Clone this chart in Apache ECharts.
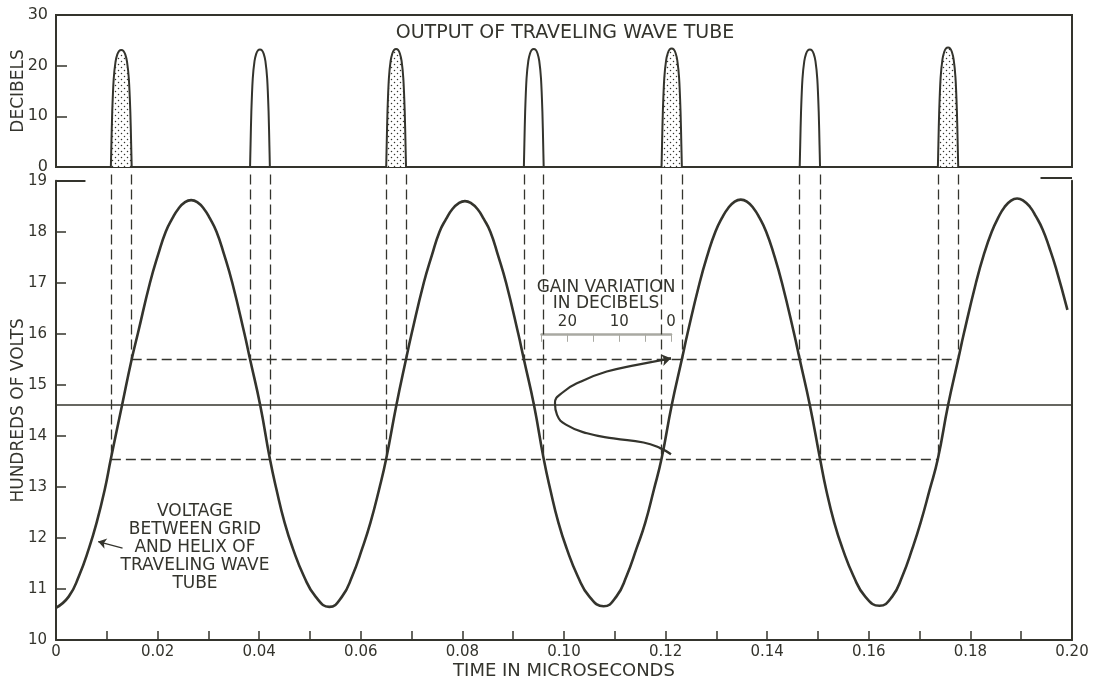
<!DOCTYPE html>
<html><head><meta charset="utf-8">
<script src="https://cdn.jsdelivr.net/npm/echarts@6/dist/echarts.min.js"></script>
<style>html,body{margin:0;padding:0;background:#fff}#c{width:1094px;height:679px}</style>
</head><body><div id="c"></div>
<script>
// ---- data ----
// Voltage between grid and helix (hundreds of volts) vs time (microseconds)
const curveTime = [
  0.0000, 0.0025, 0.0045, 0.0065, 0.0080, 0.0096, 0.0108, 0.0130, 0.0149, 0.0161, 0.0185, 0.0201, 0.0216, 0.0229, 0.0241, 0.0254, 0.0266,
  0.0278, 0.0291, 0.0303, 0.0316, 0.0331, 0.0347, 0.0371, 0.0382, 0.0402, 0.0421, 0.0434, 0.0450, 0.0466, 0.0488, 0.0511, 0.0538,
  0.0563, 0.0583, 0.0603, 0.0619, 0.0636, 0.0650, 0.0670, 0.0689, 0.0700, 0.0724, 0.0740, 0.0755, 0.0768, 0.0780, 0.0793, 0.0805,
  0.0817, 0.0830, 0.0842, 0.0855, 0.0870, 0.0886, 0.0910, 0.0921, 0.0941, 0.0960, 0.0973, 0.0989, 0.1005, 0.1027, 0.1050, 0.1078,
  0.1103, 0.1123, 0.1143, 0.1160, 0.1177, 0.1192, 0.1212, 0.1232, 0.1243, 0.1267, 0.1283, 0.1298, 0.1311, 0.1323, 0.1336, 0.1348,
  0.1360, 0.1373, 0.1385, 0.1398, 0.1413, 0.1429, 0.1453, 0.1464, 0.1484, 0.1504, 0.1516, 0.1532, 0.1548, 0.1570, 0.1593, 0.1621,
  0.1646, 0.1666, 0.1686, 0.1702, 0.1720, 0.1736, 0.1756, 0.1776, 0.1787, 0.1811, 0.1827, 0.1842, 0.1855, 0.1867, 0.1880, 0.1892,
  0.1904, 0.1917, 0.1929, 0.1942, 0.1955, 0.1968, 0.1991];
const curveVolts = [
  10.63, 10.85, 11.25, 11.8, 12.3, 12.95, 13.55, 14.6, 15.5, 16.0, 17.0, 17.55, 18.0, 18.26, 18.45, 18.58, 18.62,
  18.58, 18.45, 18.26, 18.0, 17.55, 17.0, 16.0, 15.5, 14.6, 13.55, 12.95, 12.3, 11.8, 11.25, 10.85, 10.65,
  10.85, 11.25, 11.8, 12.3, 12.95, 13.55, 14.6, 15.5, 16.0, 17.0, 17.54, 18.0, 18.25, 18.44, 18.56, 18.60,
  18.56, 18.44, 18.25, 18.0, 17.54, 17.0, 16.0, 15.5, 14.6, 13.55, 12.95, 12.3, 11.8, 11.25, 10.85, 10.66,
  10.85, 11.25, 11.8, 12.3, 12.95, 13.55, 14.6, 15.5, 16.0, 17.0, 17.56, 18.0, 18.27, 18.46, 18.59, 18.63,
  18.59, 18.46, 18.27, 18.0, 17.56, 17.0, 16.0, 15.5, 14.6, 13.55, 12.95, 12.3, 11.8, 11.25, 10.85, 10.67,
  10.85, 11.25, 11.8, 12.3, 12.95, 13.55, 14.6, 15.5, 16.0, 17.0, 17.57, 18.0, 18.28, 18.48, 18.61, 18.65,
  18.61, 18.49, 18.30, 18.05, 17.70, 17.3, 16.47];

// reference voltage levels (hundreds of volts)
const upperLevel = 15.5;
const centerLevel = 14.6;
const lowerLevel = 13.55;

// times where the voltage crosses the two levels (microseconds)
const riseLow  = [0.0108, 0.0650, 0.1192, 0.1736];
const riseHigh = [0.0149, 0.0689, 0.1232, 0.1776];
const fallHigh = [0.0382, 0.0921, 0.1464];
const fallLow  = [0.0421, 0.0960, 0.1504];

// output pulse peaks (decibels)
const risePeaks = [23.1, 23.3, 23.4, 23.6];
const fallPeaks = [23.2, 23.3, 23.2];
// shape of one output pulse: position across the pulse, fraction of the peak
const pulseShapePos   = [0, 0.025, 0.065, 0.135, 0.225, 0.31, 0.40, 0.5, 0.60, 0.69, 0.775, 0.865, 0.935, 0.975, 1];
const pulseShapeLevel = [0, 0.19, 0.47, 0.75, 0.90, 0.962, 0.992, 1, 0.992, 0.962, 0.90, 0.75, 0.47, 0.19, 0];

// gain variation curve (decibels vs hundreds of volts)
const gainDb    = [0, 2.1, 5.3, 11.1, 16.2, 20.1, 22.0, 22.4, 20.8, 17.5, 12.4, 6.6, 0];
const gainVolts = [13.64, 13.76, 13.87, 13.95, 14.05, 14.21, 14.41, 14.64, 14.86, 15.06, 15.26, 15.39, 15.52];

const voltTop = 19.12;              // top of the vertical construction lines
const frameStubLeft  = [0, 0.0058];
const frameStubRight = [0.1938, 0.2];

// ---- chart ----
const INK = '#34342d';
const FONT = 'DejaVu Sans';

const pc = document.createElement('canvas');
pc.width = 6; pc.height = 6;
const g2 = pc.getContext('2d');
g2.fillStyle = '#ffffff'; g2.fillRect(0, 0, 6, 6);
g2.fillStyle = INK;
g2.beginPath(); g2.arc(1.5, 1.5, 0.75, 0, Math.PI * 2); g2.fill();
g2.beginPath(); g2.arc(4.5, 4.5, 0.75, 0, Math.PI * 2); g2.fill();

function pulse(t0, t1, peak) {
  return pulseShapePos.map((p, i) => [t0 + p * (t1 - t0), pulseShapeLevel[i] * peak]);
}

const series = [];
riseLow.forEach((t0, i) => {
  series.push({
    type: 'line', xAxisIndex: 0, yAxisIndex: 0, data: pulse(t0, riseHigh[i], risePeaks[i]),
    smooth: 0.3, showSymbol: false,
    lineStyle: { color: INK, width: 2 },
    areaStyle: { color: { image: pc, repeat: 'repeat' }, opacity: 1 }
  });
});
fallHigh.forEach((t0, i) => {
  series.push({
    type: 'line', xAxisIndex: 0, yAxisIndex: 0, data: pulse(t0, fallLow[i], fallPeaks[i]),
    smooth: 0.3, showSymbol: false,
    lineStyle: { color: INK, width: 2 }
  });
});

// main voltage curve
series.push({
  type: 'line', xAxisIndex: 1, yAxisIndex: 1,
  data: curveTime.map((t, i) => [t, curveVolts[i]]),
  smooth: 0.5, showSymbol: false, lineStyle: { color: INK, width: 2.6 }, z: 5
});

// center level (solid)
series.push({
  type: 'lines', coordinateSystem: 'cartesian2d', xAxisIndex: 1, yAxisIndex: 1,
  data: [{ coords: [[0, centerLevel], [0.2, centerLevel]] }],
  lineStyle: { color: INK, width: 1.6, opacity: 1 }, symbol: 'none'
});
// dashed horizontals
series.push({
  type: 'lines', coordinateSystem: 'cartesian2d', xAxisIndex: 1, yAxisIndex: 1,
  data: [
    { coords: [[riseHigh[0], upperLevel], [riseHigh[riseHigh.length - 1], upperLevel]] },
    { coords: [[riseLow[0], lowerLevel], [riseLow[riseLow.length - 1], lowerLevel]] }
  ],
  lineStyle: { color: INK, width: 1.3, type: [10, 5], opacity: 1 }, symbol: 'none'
});
// dashed verticals
const verts = [];
riseLow.forEach(t => verts.push({ coords: [[t, voltTop], [t, lowerLevel]] }));
riseHigh.forEach(t => verts.push({ coords: [[t, voltTop], [t, upperLevel]] }));
fallHigh.forEach(t => verts.push({ coords: [[t, voltTop], [t, upperLevel]] }));
fallLow.forEach(t => verts.push({ coords: [[t, voltTop], [t, lowerLevel]] }));
series.push({
  type: 'lines', coordinateSystem: 'cartesian2d', xAxisIndex: 1, yAxisIndex: 1, clip: false,
  data: verts, lineStyle: { color: INK, width: 1.3, type: [10, 5], opacity: 1 }, symbol: 'none'
});
// frame stubs at 19
series.push({
  type: 'lines', coordinateSystem: 'cartesian2d', xAxisIndex: 1, yAxisIndex: 1, clip: false,
  data: [
    { coords: [[frameStubLeft[0], 19], [frameStubLeft[1], 19]] },
    { coords: [[frameStubRight[0], 19.05], [frameStubRight[1], 19.05]] }
  ],
  lineStyle: { color: INK, width: 2, opacity: 1 }, symbol: 'none'
});
// annotation arrow
series.push({
  type: 'lines', coordinateSystem: 'cartesian2d', xAxisIndex: 1, yAxisIndex: 1,
  data: [{ coords: [[0.0131, 11.80], [0.0083, 11.93]] }],
  lineStyle: { color: INK, width: 1.3, opacity: 1 }, symbol: ['none', 'arrow'], symbolSize: 8
});
// gain variation curve (inset)
series.push({
  type: 'line', xAxisIndex: 2, yAxisIndex: 3,
  data: gainDb.map((d, i) => [d, gainVolts[i]]),
  smooth: 0.5, showSymbol: false, lineStyle: { color: INK, width: 2.2 }, z: 6
});
series.push({
  type: 'lines', coordinateSystem: 'cartesian2d', xAxisIndex: 2, yAxisIndex: 3,
  data: [{ coords: [[1.5, 15.49], [0, 15.52]] }],
  lineStyle: { color: INK, width: 2.2, opacity: 1 }, symbol: ['none', 'arrow'], symbolSize: 9, z: 6
});

const labelStyle = { color: INK, fontFamily: FONT, fontSize: 15 };
const nameStyle = { color: INK, fontFamily: FONT, fontSize: 17 };

const option = {
  backgroundColor: '#ffffff',
  animation: false,
  grid: [
    { left: 56, right: 22, top: 15, height: 152, show: true, borderColor: INK, borderWidth: 2, backgroundColor: 'transparent', containLabel: false, outerBoundsMode: 'none' },
    { left: 56, right: 22, top: 180.7, bottom: 39, containLabel: false, outerBoundsMode: 'none' },
    { left: 541.5, width: 129.5, top: 333.8, bottom: 39, containLabel: false, outerBoundsMode: 'none' }
  ],
  xAxis: [
    { gridIndex: 0, type: 'value', min: 0, max: 0.2, show: false },
    {
      gridIndex: 1, type: 'value', min: 0, max: 0.2, interval: 0.01,
      name: 'TIME IN MICROSECONDS', nameLocation: 'middle', nameGap: 22, nameMoveOverlap: false, nameTextStyle: { ...nameStyle, fontSize: 18 },
      axisLine: { lineStyle: { color: INK, width: 2 } },
      axisTick: { inside: true, length: 9, lineStyle: { color: INK, width: 1.5 } },
      axisLabel: { ...labelStyle, margin: 5,
        formatter: v => { const k = Math.round(v * 100); return k % 2 ? '' : (k === 0 ? '0' : (k / 100).toFixed(2)); } },
      splitLine: { show: false }
    },
    {
      gridIndex: 2, type: 'value', min: 0, max: 25, interval: 5, inverse: true, position: 'top',
      axisLine: { lineStyle: { color: '#a9a9a2', width: 2.5 } },
      axisTick: { inside: true, length: 8, lineStyle: { color: '#a9a9a2', width: 1 } },
      axisLabel: { ...labelStyle, fontSize: 15, margin: 4, formatter: v => (v % 10 === 0 ? String(v) : '') },
      splitLine: { show: false }
    }
  ],
  yAxis: [
    {
      gridIndex: 0, type: 'value', min: 0, max: 30, interval: 10,
      name: 'DECIBELS', nameLocation: 'middle', nameGap: 29, nameMoveOverlap: false, nameTextStyle: nameStyle,
      axisLine: { show: true, lineStyle: { color: INK, width: 2 } },
      axisTick: { inside: true, length: 11, lineStyle: { color: INK, width: 1.5 } },
      axisLabel: { ...labelStyle, fontSize: 16, margin: 8 },
      splitLine: { show: false }
    },
    {
      gridIndex: 1, type: 'value', min: 10, max: 19, interval: 1,
      name: 'HUNDREDS OF VOLTS', nameLocation: 'middle', nameGap: 29, nameMoveOverlap: false, nameTextStyle: nameStyle,
      axisLine: { show: true, lineStyle: { color: INK, width: 2 } },
      axisTick: { inside: true, length: 10, lineStyle: { color: INK, width: 1.5 } },
      axisLabel: { ...labelStyle, margin: 9 },
      splitLine: { show: false }
    },
    {
      gridIndex: 1, type: 'value', min: 10, max: 19, position: 'right',
      axisLine: { show: true, lineStyle: { color: INK, width: 2 } },
      axisTick: { show: false }, axisLabel: { show: false }, splitLine: { show: false }
    },
    { gridIndex: 2, type: 'value', min: 10, max: 16, show: false, splitLine: { show: false } }
  ],
  graphic: [
    { type: 'text', x: 565, y: 33, style: { text: 'OUTPUT OF TRAVELING WAVE TUBE', fill: INK, font: '19px "DejaVu Sans"', textAlign: 'center', textVerticalAlign: 'middle' } },
    { type: 'text', x: 606, y: 296, style: { text: 'GAIN VARIATION\nIN DECIBELS', fill: INK, font: '17px "DejaVu Sans"', lineHeight: 16, textAlign: 'center', textVerticalAlign: 'middle' } },
    { type: 'text', x: 195, y: 547.5, style: { text: 'VOLTAGE\nBETWEEN GRID\nAND HELIX OF\nTRAVELING WAVE\nTUBE', fill: INK, font: '17px "DejaVu Sans"', lineHeight: 18, textAlign: 'center', textVerticalAlign: 'middle' } }
  ],
  series: series
};

const chart = echarts.init(document.getElementById('c'), null, { renderer: 'canvas' });
chart.setOption(option);
</script>
</body></html>
